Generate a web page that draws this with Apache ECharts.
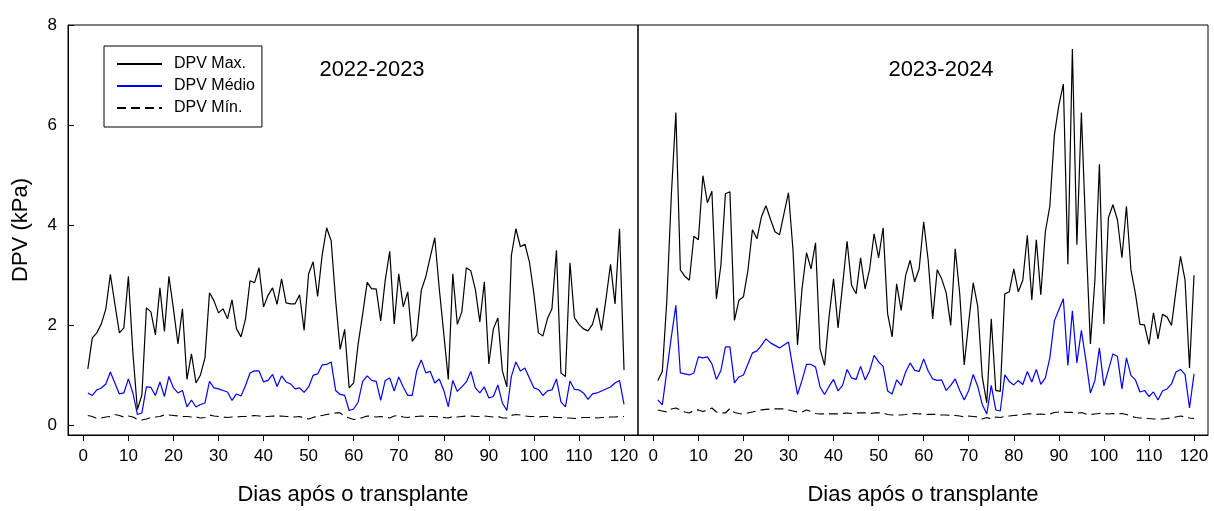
<!DOCTYPE html>
<html>
<head>
<meta charset="utf-8">
<script src="https://cdn.jsdelivr.net/npm/echarts@6/dist/echarts.min.js"></script>
<style>
html,body{margin:0;padding:0;background:#fff;}
#chart{width:1214px;height:511px;}
</style>
</head>
<body>
<div id="chart"></div>
<script>
const days = [1,2,3,4,5,6,7,8,9,10,11,12,13,14,15,16,17,18,19,20,
21,22,23,24,25,26,27,28,29,30,31,32,33,34,35,36,37,38,39,40,
41,42,43,44,45,46,47,48,49,50,51,52,53,54,55,56,57,58,59,60,
61,62,63,64,65,66,67,68,69,70,71,72,73,74,75,76,77,78,79,80,
81,82,83,84,85,86,87,88,89,90,91,92,93,94,95,96,97,98,99,100,
101,102,103,104,105,106,107,108,109,110,111,112,113,114,115,116,117,118,119,120];

const xTicks = [0,10,20,30,40,50,60,70,80,90,100,110,120];
const yTicks = [0,2,4,6,8];
const seriesNames = ['DPV Max.', 'DPV Médio', 'DPV Mín.'];
const panelTitles = ['2022-2023', '2023-2024'];

// 2022-2023
const max2223 = [1.13,1.75,1.85,2.03,2.33,3.02,2.43,1.85,1.95,2.98,1.45,0.32,0.61,2.35,2.27,1.81,2.75,1.88,2.98,2.33,
1.63,2.33,0.92,1.43,0.85,1.01,1.35,2.65,2.49,2.25,2.33,2.13,2.51,1.93,1.77,2.13,2.89,2.85,3.15,2.37,
2.6,2.75,2.42,2.93,2.45,2.43,2.43,2.61,1.9,3.03,3.27,2.58,3.4,3.95,3.69,2.5,1.52,1.92,0.75,0.85,
1.63,2.23,2.86,2.73,2.73,2.09,2.9,3.48,2.03,3.03,2.37,2.67,1.68,1.81,2.7,2.97,3.37,3.75,2.73,1.83,
0.92,3.03,2.02,2.27,3.15,3.09,2.72,2.07,2.87,1.23,1.93,2.15,1.09,0.77,3.4,3.93,3.57,3.62,3.27,2.63,
1.85,1.79,2.13,2.33,3.5,1.05,0.98,3.25,2.15,2.02,1.93,1.89,2.02,2.35,1.9,2.53,3.22,2.43,3.93,1.11];

const med2223 = [0.65,0.6,0.71,0.75,0.83,1.07,0.85,0.63,0.65,0.93,0.65,0.22,0.25,0.77,0.76,0.6,0.87,0.58,0.98,0.75,
0.65,0.7,0.37,0.51,0.37,0.42,0.45,0.88,0.75,0.73,0.7,0.67,0.5,0.63,0.59,0.8,1.05,1.09,1.09,0.87,
0.9,1.02,0.78,0.99,0.87,0.83,0.73,0.75,0.66,0.77,1.0,1.03,1.21,1.22,1.27,0.7,0.62,0.6,0.3,0.33,
0.47,0.88,0.99,0.9,0.88,0.5,0.9,0.95,0.69,0.97,0.77,0.6,0.6,1.1,1.31,1.05,1.08,0.85,0.93,0.7,
0.37,0.9,0.68,0.77,0.87,1.08,0.75,0.65,0.77,0.55,0.58,0.81,0.45,0.3,0.98,1.27,1.09,1.15,0.95,0.75,
0.72,0.6,0.69,0.71,0.93,0.47,0.37,0.89,0.72,0.71,0.65,0.52,0.63,0.65,0.69,0.73,0.77,0.85,0.9,0.42];

const min2223 = [0.2,0.18,0.14,0.15,0.17,0.18,0.22,0.2,0.17,0.19,0.17,0.12,0.11,0.13,0.16,0.17,0.18,0.21,0.21,0.2,
0.19,0.18,0.18,0.17,0.17,0.15,0.16,0.21,0.19,0.18,0.17,0.16,0.17,0.17,0.18,0.18,0.19,0.2,0.19,0.18,
0.18,0.19,0.18,0.19,0.18,0.18,0.17,0.18,0.15,0.13,0.16,0.19,0.2,0.22,0.23,0.25,0.25,0.18,0.15,0.12,
0.13,0.16,0.19,0.18,0.17,0.18,0.17,0.15,0.19,0.2,0.17,0.16,0.18,0.18,0.19,0.18,0.18,0.18,0.17,0.16,
0.15,0.18,0.17,0.18,0.19,0.19,0.18,0.18,0.19,0.18,0.17,0.18,0.15,0.15,0.2,0.22,0.21,0.19,0.18,0.18,
0.17,0.18,0.18,0.17,0.16,0.16,0.15,0.15,0.14,0.15,0.16,0.16,0.16,0.15,0.16,0.16,0.17,0.17,0.18,0.18];

// 2023-2024
const max2324 = [0.9,1.08,2.5,4.6,6.25,3.11,2.98,2.9,3.78,3.71,4.99,4.45,4.68,2.53,3.2,4.63,4.67,2.1,2.5,2.57,
3.1,3.91,3.73,4.17,4.39,4.12,3.87,3.81,4.23,4.65,3.5,1.61,2.73,3.45,3.13,3.65,1.53,1.2,2.17,2.93,
1.95,2.8,3.68,2.8,2.63,3.35,2.73,3.12,3.83,3.35,3.95,2.23,1.77,2.83,2.3,3.0,3.3,2.87,3.13,4.07,
3.3,2.13,3.11,2.93,2.65,2.0,3.53,2.63,1.21,2.07,2.85,2.38,0.97,0.45,2.13,0.7,0.68,2.63,2.67,3.13,
2.67,2.9,3.8,2.51,3.71,2.61,3.87,4.38,5.8,6.4,6.82,3.22,7.52,3.61,6.25,3.8,1.63,2.9,5.22,2.03,
4.15,4.41,4.11,3.35,4.38,3.11,2.63,2.02,2.01,1.62,2.25,1.73,2.22,2.17,2.0,2.7,3.38,2.91,1.15,3.0];

const med2324 = [0.51,0.41,1.09,1.77,2.4,1.05,1.03,1.01,1.05,1.37,1.35,1.37,1.23,0.92,1.1,1.57,1.57,0.85,0.97,1.01,
1.23,1.45,1.49,1.6,1.73,1.65,1.6,1.55,1.61,1.67,1.13,0.62,0.9,1.22,1.22,1.17,0.77,0.62,0.78,0.92,
0.69,0.8,1.12,0.95,0.92,1.18,0.91,1.09,1.4,1.27,1.18,0.69,0.63,0.91,0.8,1.07,1.25,1.1,1.08,1.33,
1.09,0.93,0.9,0.91,0.7,0.8,0.93,0.7,0.51,0.7,1.02,0.78,0.42,0.23,0.8,0.31,0.29,1.01,0.88,0.81,
0.9,0.82,1.08,0.87,1.12,0.82,0.95,1.35,2.09,2.31,2.53,1.2,2.29,1.25,1.9,1.3,0.65,0.9,1.55,0.79,
1.11,1.43,1.38,0.73,1.35,1.0,0.91,0.67,0.7,0.58,0.67,0.51,0.69,0.73,0.83,1.07,1.12,1.02,0.35,1.03];

const min2324 = [0.31,0.29,0.27,0.33,0.35,0.31,0.27,0.25,0.3,0.31,0.28,0.31,0.35,0.27,0.25,0.25,0.34,0.26,0.24,0.23,
0.25,0.27,0.29,0.31,0.32,0.33,0.33,0.33,0.33,0.31,0.29,0.27,0.27,0.31,0.28,0.24,0.23,0.23,0.23,0.23,
0.23,0.24,0.25,0.24,0.25,0.25,0.25,0.24,0.25,0.25,0.25,0.22,0.21,0.21,0.21,0.22,0.23,0.24,0.23,0.23,
0.22,0.22,0.22,0.21,0.21,0.2,0.2,0.19,0.17,0.19,0.18,0.17,0.13,0.16,0.13,0.17,0.16,0.18,0.19,0.2,
0.21,0.22,0.23,0.23,0.22,0.23,0.22,0.23,0.26,0.27,0.27,0.26,0.26,0.24,0.26,0.23,0.22,0.23,0.24,0.24,
0.23,0.24,0.23,0.24,0.22,0.19,0.16,0.15,0.14,0.14,0.13,0.13,0.13,0.14,0.15,0.17,0.19,0.17,0.15,0.14];

const FONT = '"Liberation Sans", Arial, Helvetica, sans-serif';
const pair = arr => days.map((d, i) => [d, arr[i]]);

const panels = [
  { max: max2223, med: med2223, min: min2223 },
  { max: max2324, med: med2324, min: min2324 }
];

const styles = [
  { color: '#000000', type: 'solid' },
  { color: '#0000ff', type: 'solid' },
  { color: '#000000', type: [9, 5] }
];

const series = [];
panels.forEach((p, gi) => {
  [p.max, p.med, p.min].forEach((arr, si) => {
    series.push({
      name: seriesNames[si],
      type: 'line',
      xAxisIndex: gi,
      yAxisIndex: gi,
      data: pair(arr),
      symbol: 'none',
      color: styles[si].color,
      lineStyle: { color: styles[si].color, width: 1.2, type: styles[si].type },
      z: 3 - si
    });
  });
});

function xAxisFor(gi) {
  return {
    type: 'value', gridIndex: gi, min: -3.4, max: 123.1,
    axisLine: { show: true, onZero: false, lineStyle: { color: '#000', width: 1 } },
    axisTick: { show: true, customValues: xTicks, length: 6, inside: false, lineStyle: { color: '#000', width: 1 } },
    axisLabel: { customValues: xTicks, color: '#000', fontSize: 17, fontFamily: FONT, margin: 13 },
    splitLine: { show: false },
    name: 'Dias após o transplante', nameLocation: 'middle', nameGap: 49,
    nameTextStyle: { color: '#000', fontSize: 22, fontFamily: FONT }
  };
}

const option = {
  animation: false,
  backgroundColor: '#ffffff',
  grid: [
    { left: 68, top: 25, width: 570, height: 410, show: true, borderColor: '#000', borderWidth: 1, backgroundColor: 'transparent' },
    { left: 638, top: 25, width: 570, height: 410, show: true, borderColor: '#000', borderWidth: 1, backgroundColor: 'transparent' }
  ],
  xAxis: [xAxisFor(0), xAxisFor(1)],
  yAxis: [
    {
      type: 'value', gridIndex: 0, min: -0.19, max: 8,
      axisLine: { show: true, onZero: false, lineStyle: { color: '#000', width: 1 } },
      axisTick: { show: true, inside: true, length: 6, customValues: yTicks, lineStyle: { color: '#000', width: 1 } },
      axisLabel: { customValues: yTicks, color: '#000', fontSize: 17, fontFamily: FONT, margin: 11 },
      splitLine: { show: false },
      name: 'DPV (kPa)', nameLocation: 'middle', nameGap: 36,
      nameTextStyle: { color: '#000', fontSize: 22, fontFamily: FONT }
    },
    {
      type: 'value', gridIndex: 1, min: -0.19, max: 8,
      axisLine: { show: false, onZero: false }, axisTick: { show: false }, axisLabel: { show: false },
      splitLine: { show: false }
    }
  ],
  legend: {
    data: seriesNames,
    orient: 'vertical',
    left: 104, top: 46,
    padding: [10, 7, 11, 12],
    itemGap: 6,
    itemWidth: 45, itemHeight: 14,
    borderColor: '#000', borderWidth: 1,
    selectedMode: false,
    itemStyle: { opacity: 0 },
    textStyle: { color: '#000', fontSize: 16, fontFamily: FONT, padding: [0, 0, 0, 7] }
  },
  graphic: [
    { type: 'text', x: 372, y: 70, style: { text: panelTitles[0], fill: '#000', fontSize: 22, fontFamily: FONT, align: 'center', verticalAlign: 'middle' } },
    { type: 'text', x: 941, y: 70, style: { text: panelTitles[1], fill: '#000', fontSize: 22, fontFamily: FONT, align: 'center', verticalAlign: 'middle' } }
  ],
  series: series
};

const chart = echarts.init(document.getElementById('chart'), null, { renderer: 'canvas' });
chart.setOption(option);
</script>
</body>
</html>
